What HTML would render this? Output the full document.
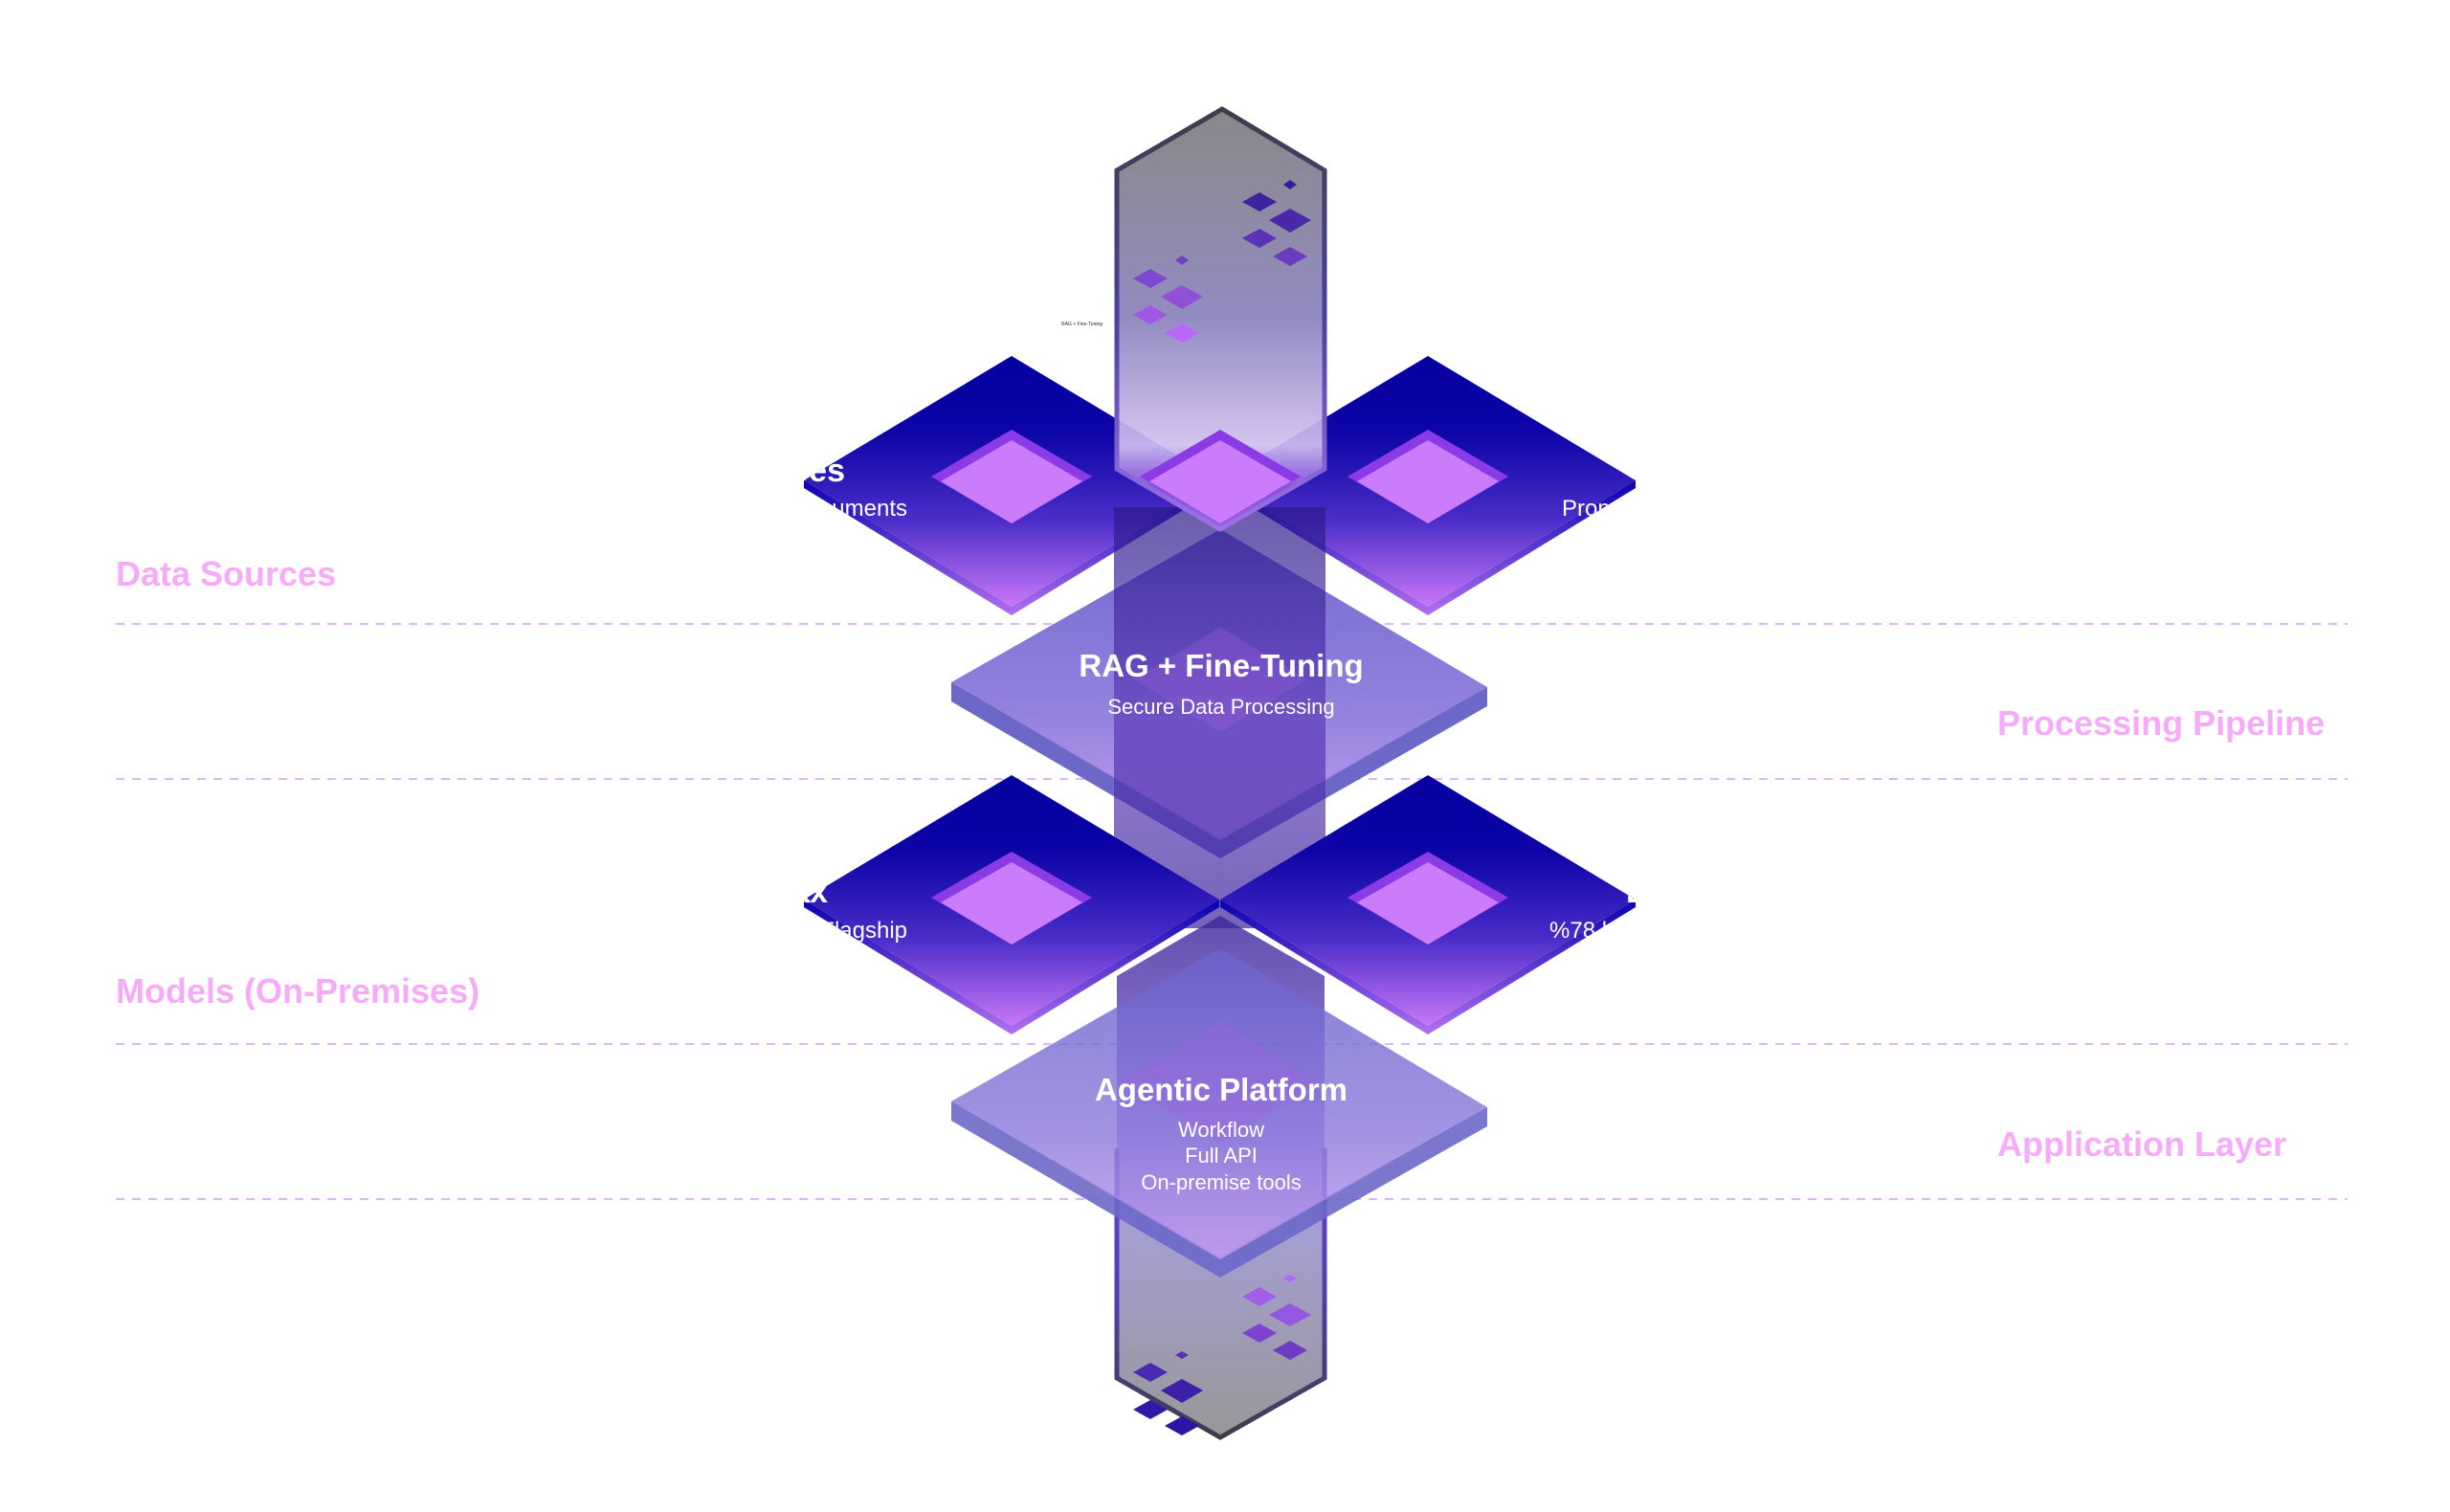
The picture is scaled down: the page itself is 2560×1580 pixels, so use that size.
<!DOCTYPE html>
<html><head><meta charset="utf-8"><style>
html,body{margin:0;padding:0;background:#fff;}
svg{display:block;}
text{font-family:"Liberation Sans",sans-serif;}
</style></head><body>
<svg width="2560" height="1580" viewBox="0 0 2560 1580" xmlns="http://www.w3.org/2000/svg">
<defs>
<linearGradient id="face" x1="0" y1="0" x2="0" y2="1">
<stop offset="0" stop-color="#0600a0"/><stop offset="0.3" stop-color="#0c04a6"/><stop offset="0.65" stop-color="#4a2cc8"/><stop offset="1" stop-color="#c878f8"/></linearGradient>
<linearGradient id="side" x1="0" y1="0" x2="0" y2="1">
<stop offset="0" stop-color="#0800b0"/><stop offset="1" stop-color="#b070f0"/></linearGradient>
<linearGradient id="col" x1="0" y1="0" x2="0" y2="1">
<stop offset="0" stop-color="#7e7e7e"/><stop offset="0.5" stop-color="#8a82bc"/><stop offset="0.8" stop-color="#d2bff0"/><stop offset="0.9" stop-color="#8a5ae0"/><stop offset="1" stop-color="#9a60e8"/></linearGradient>
<linearGradient id="colS" x1="0" y1="0" x2="0" y2="1">
<stop offset="0" stop-color="#3d3d4a"/><stop offset="0.5" stop-color="#4a40a0"/><stop offset="1" stop-color="#a070e8"/></linearGradient>
<linearGradient id="colB" x1="0" y1="0" x2="0" y2="1">
<stop offset="0" stop-color="#3a2298"/><stop offset="0.45" stop-color="#8a6ad8"/><stop offset="0.6" stop-color="#8f86c8"/><stop offset="1" stop-color="#7e7e7e"/></linearGradient>
<linearGradient id="colBS" x1="0" y1="0" x2="0" y2="1">
<stop offset="0" stop-color="#6a40d0"/><stop offset="0.5" stop-color="#5040b0"/><stop offset="1" stop-color="#3d3d4a"/></linearGradient>
<linearGradient id="mid" x1="0" y1="0" x2="0" y2="1">
<stop offset="0" stop-color="#2a1888" stop-opacity="0.7"/><stop offset="0.5" stop-color="#5a36b8" stop-opacity="0.65"/><stop offset="1" stop-color="#3a2298" stop-opacity="0.7"/></linearGradient>
<linearGradient id="plate" x1="0" y1="0" x2="0" y2="1">
<stop offset="0" stop-color="#6a62cc"/><stop offset="0.6" stop-color="#8e7cdc"/><stop offset="1" stop-color="#c49af2"/></linearGradient>
<clipPath id="cL1"><polygon points="1057,372 1274,502 1274,510 1057,643 840,510 840,502"/></clipPath>
<clipPath id="cR1"><polygon points="1492,372 1709,502 1709,510 1492,643 1275,510 1275,502"/></clipPath>
<clipPath id="cL2"><polygon points="1057,810 1274,940 1274,948 1057,1081 840,948 840,940"/></clipPath>
<clipPath id="cR2"><polygon points="1492,810 1709,940 1709,948 1492,1081 1275,948 1275,940"/></clipPath>
</defs>

<g stroke="#e2b4f8" stroke-width="2" stroke-dasharray="9 8">
<line x1="121" y1="652" x2="2453" y2="652"/>
<line x1="121" y1="814" x2="2453" y2="814"/>
<line x1="121" y1="1091" x2="2453" y2="1091"/>
<line x1="121" y1="1253" x2="2453" y2="1253"/>
</g>
<g fill="#f6aaf8" font-weight="bold" font-size="36">
<text x="121" y="612">Data Sources</text>
<text x="2087" y="768">Processing Pipeline</text>
<text x="121" y="1048">Models (On-Premises)</text>
<text x="2087" y="1208">Application Layer</text>
</g>

<polygon points="994,713 1275,875 1554,718 1554,738 1275,897 994,733" fill="#6c68c8"/>
<polygon points="1275,553 1554,718 1275,878 994,713" fill="url(#plate)" opacity="0.95"/>

<polygon points="840,502 1057,634 1274,502 1274,510 1057,643 840,510" fill="url(#side)"/>
<polygon points="1057,372 1274,502 1057,634 840,502" fill="url(#face)"/>
<polygon points="1057,449 1141,498 1057,547 973,498" fill="#8a3be6"/>
<polygon points="1057,460 1131,503 1057,547 983,503" fill="#ca7cfc"/>
<polygon points="1275,502 1492,634 1709,502 1709,510 1492,643 1275,510" fill="url(#side)"/>
<polygon points="1492,372 1709,502 1492,634 1275,502" fill="url(#face)"/>
<polygon points="1492,449 1576,498 1492,547 1408,498" fill="#8a3be6"/>
<polygon points="1492,460 1566,503 1492,547 1418,503" fill="#ca7cfc"/>
<g clip-path="url(#cL1)" fill="#fff"><text x="883" y="503" font-size="34" font-weight="bold" text-anchor="end">Sources</text><text x="948" y="539" font-size="24" text-anchor="end">Documents</text></g>
<g clip-path="url(#cR1)" fill="#fff"><text x="1632" y="539" font-size="24">Prompts</text></g>

<rect x="1164" y="530" width="221" height="440" fill="url(#mid)"/>

<path d="M1167,178 L1277,114 L1384,178 L1384,490 L1275,553 L1167,490 Z" fill="url(#col)" fill-opacity="0.92" stroke="url(#colS)" stroke-width="5"/>
<polygon points="1348,188 1355,193 1348,198 1341,193" fill="#3a1a9c"/>
<polygon points="1316,201 1334,211 1316,221 1298,211" fill="#3f22a0"/>
<polygon points="1348,218 1370,230 1348,243 1326,230" fill="#4a28a8"/>
<polygon points="1316,239 1334,249 1316,259 1298,249" fill="#5a34b4"/>
<polygon points="1348,258 1366,268 1348,278 1330,268" fill="#6a3cc0"/>
<polygon points="1235,267 1242,272 1235,277 1228,272" fill="#7040c8"/>
<polygon points="1202,281 1220,291 1202,301 1184,291" fill="#8048d0"/>
<polygon points="1235,298 1257,310 1235,323 1213,310" fill="#9050d8"/>
<polygon points="1202,319 1220,329 1202,339 1184,329" fill="#a058e4"/>
<polygon points="1235,338 1253,348 1235,358 1217,348" fill="#b868f4"/>
<text x="1109" y="340" font-size="5" font-family="Liberation Serif,serif" fill="#222">RAG + Fine-Tuning</text>
<polygon points="1275,449 1359,498 1275,547 1191,498" fill="#8a3be6"/>
<polygon points="1275,460 1349,503 1275,547 1201,503" fill="#ca7cfc"/>

<polygon points="1275,655 1365,710 1275,765 1185,710" fill="#a060e0" opacity="0.3"/>
<text x="1276" y="707" font-size="33" font-weight="bold" fill="#fff" text-anchor="middle">RAG + Fine-Tuning</text>
<text x="1276" y="746" font-size="22" fill="#fff" text-anchor="middle">Secure Data Processing</text>

<polygon points="840,940 1057,1072 1274,940 1274,948 1057,1081 840,948" fill="url(#side)"/>
<polygon points="1057,810 1274,940 1057,1072 840,940" fill="url(#face)"/>
<polygon points="1057,890 1141,938 1057,987 973,938" fill="#8a3be6"/>
<polygon points="1057,901 1131,943 1057,987 983,943" fill="#ca7cfc"/>
<polygon points="1275,940 1492,1072 1709,940 1709,948 1492,1081 1275,948" fill="url(#side)"/>
<polygon points="1492,810 1709,940 1492,1072 1275,940" fill="url(#face)"/>
<polygon points="1492,890 1576,938 1492,987 1408,938" fill="#8a3be6"/>
<polygon points="1492,901 1566,943 1492,987 1418,943" fill="#ca7cfc"/>
<g clip-path="url(#cL2)" fill="#fff"><text x="865" y="943" font-size="34" font-weight="bold" text-anchor="end">Max</text><text x="948" y="980" font-size="24" text-anchor="end">Flagship</text></g>
<g clip-path="url(#cR2)" fill="#fff"><text x="1699" y="943" font-size="34" font-weight="bold">Lite</text><text x="1619" y="980" font-size="24">%78 less</text></g>

<!-- bottom column (behind agentic plate) -->
<path d="M1167,1020 L1275,957 L1384,1020 L1384,1440 L1275,1502 L1167,1440 Z" fill="url(#colB)" fill-opacity="0.8"/>
<path d="M1167,1200 L1167,1440 L1275,1502 L1384,1440 L1384,1200" fill="none" stroke="url(#colBS)" stroke-width="5"/>

<polygon points="994,1151 1275,1313 1554,1157 1554,1177 1275,1335 994,1171" fill="#6c68c8" opacity="0.9"/>
<polygon points="1275,991 1554,1157 1275,1316 994,1151" fill="url(#plate)" opacity="0.82"/>
<polygon points="1275,1068 1380,1130 1275,1195 1170,1130" fill="#a060e0" opacity="0.35"/>

<polygon points="1348,1332 1355,1336 1348,1340 1341,1336" fill="#b068f0"/>
<polygon points="1316,1345 1334,1355 1316,1365 1298,1355" fill="#a060e8"/>
<polygon points="1348,1362 1370,1374 1348,1386 1326,1374" fill="#9458e0"/>
<polygon points="1316,1383 1334,1393 1316,1403 1298,1393" fill="#7c44d0"/>
<polygon points="1348,1401 1366,1411 1348,1421 1330,1411" fill="#6c3cc4"/>
<polygon points="1235,1412 1242,1416 1235,1420 1228,1416" fill="#5a30b8"/>
<polygon points="1202,1424 1220,1434 1202,1444 1184,1434" fill="#4a28b0"/>
<polygon points="1235,1441 1257,1453 1235,1466 1213,1453" fill="#3c20a8"/>
<polygon points="1202,1463 1220,1473 1202,1483 1184,1473" fill="#3218a8"/>
<polygon points="1235,1480 1253,1490 1235,1500 1217,1490" fill="#2c14a4"/>

<text x="1276" y="1150" font-size="33" font-weight="bold" fill="#fff" text-anchor="middle">Agentic Platform</text>
<text x="1276" y="1188" font-size="22" fill="#fff" text-anchor="middle">Workflow</text>
<text x="1276" y="1215" font-size="22" fill="#fff" text-anchor="middle">Full API</text>
<text x="1276" y="1243" font-size="22" fill="#fff" text-anchor="middle">On-premise tools</text>
</svg>
</body></html>
